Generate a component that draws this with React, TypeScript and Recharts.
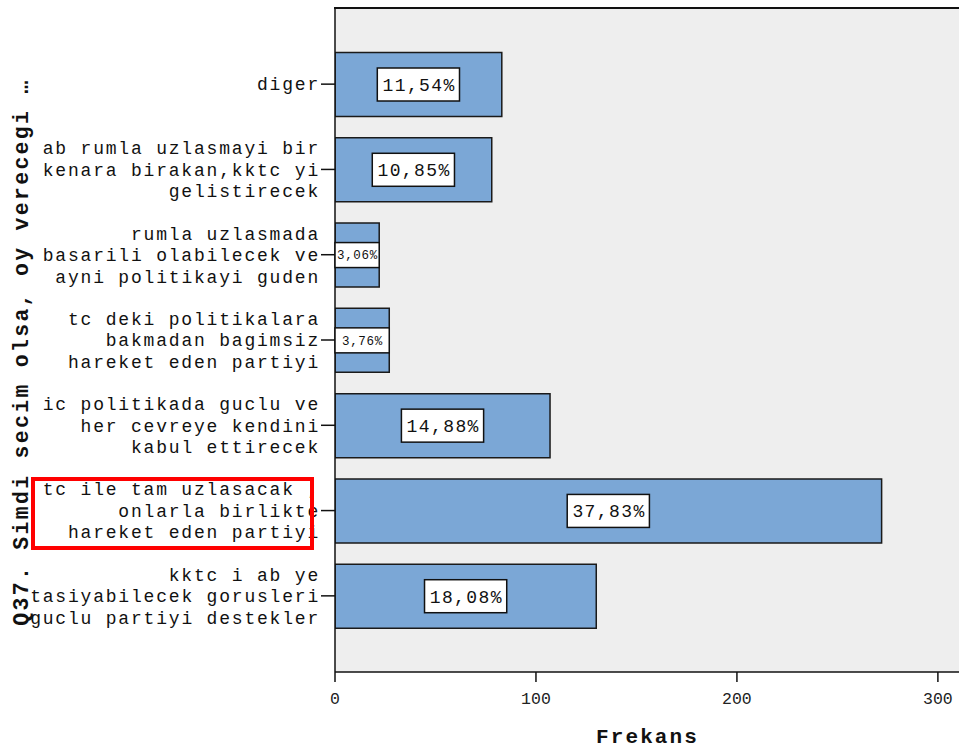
import React from 'react';
import { BarChart, Bar, XAxis, YAxis, CartesianGrid, LabelList } from 'recharts';

// answer categories, top to bottom, one entry per printed line
const categories = [
  ['diger'],
  ['ab rumla uzlasmayi bir', 'kenara birakan,kktc yi', 'gelistirecek'],
  ['rumla uzlasmada', 'basarili olabilecek ve', 'ayni politikayi guden'],
  ['tc deki politikalara', 'bakmadan bagimsiz', 'hareket eden partiyi'],
  ['ic politikada guclu ve', 'her cevreye kendini', 'kabul ettirecek'],
  ['tc ile tam uzlasacak ,', 'onlarla birlikte', 'hareket eden partiyi'],
  ['kktc i ab ye', 'tasiyabilecek gorusleri', 'guclu partiyi destekler'],
];
const frequencies = [83, 78, 22, 27, 107, 272, 130];
const percentLabels = ['11,54%', '10,85%', '3,06%', '3,76%', '14,88%', '37,83%', '18,08%'];
const xTicks = [0, 100, 200, 300];
const xMax = 311;

const data = categories.map((lines, i) => ({
  name: lines.join('|'),
  freq: frequencies[i],
  pct: percentLabels[i],
}));

const MONO = '"Liberation Mono", "DejaVu Sans Mono", monospace';
const PLOT_TOP = 8;
const PLOT_LEFT = 335;

const CategoryTick = (props: any) => {
  const { x, y, payload } = props;
  const lines = String(payload.value).split('|');
  const lh = 21.5;
  const start = -((lines.length - 1) * lh) / 2;
  return (
    <text
      x={x + 1}
      y={y}
      textAnchor="end"
      fontFamily={MONO}
      fontSize={18}
      letterSpacing={1.8}
      fill="#111"
    >
      {lines.map((l, i) => (
        <tspan key={i} x={x + 1} y={y + start + i * lh} dy="0.35em">
          {l}
        </tspan>
      ))}
    </text>
  );
};

const NumTick = (props: any) => {
  const { x, y, payload } = props;
  return (
    <text x={x} y={y + 20} textAnchor="middle" fontFamily={MONO} fontSize={16.5} fill="#222">
      {payload.value}
    </text>
  );
};

const BarLabel = (props: any) => {
  const { x, y, width, height, value } = props;
  const txt = String(value);
  let fs = 18;
  let ls = 1.4;
  let bh = 33;
  let bw = txt.length * (fs * 0.6 + ls) + 9;
  if (bw > width) {
    fs = 12.5;
    ls = 0.7;
    bh = 25;
    bw = width;
  }
  const cx = x + width / 2;
  const cy = y + height / 2;
  return (
    <g>
      <rect x={cx - bw / 2} y={cy - bh / 2} width={bw} height={bh} fill="#fff" stroke="#111" strokeWidth={1.5} />
      <text
        x={cx + ls / 2}
        y={cy}
        dy="0.35em"
        textAnchor="middle"
        fontFamily={MONO}
        fontSize={fs}
        letterSpacing={ls}
        fill="#111"
      >
        {txt}
      </text>
    </g>
  );
};

const XTitle = (props: any) => {
  const vb = props.viewBox || {};
  return (
    <text
      x={vb.x + vb.width / 2}
      y={vb.y + vb.height - 6}
      textAnchor="middle"
      fontFamily={MONO}
      fontWeight="bold"
      fontSize={21}
      letterSpacing={2.1}
      fill="#111"
    >
      Frekans
    </text>
  );
};

const YTitle = (props: any) => {
  const vb = props.viewBox || {};
  const cx = vb.x + 20;
  const cy = vb.y + vb.height / 2 + 12;
  return (
    <text
      x={cx}
      y={cy}
      dy="0.35em"
      transform={`rotate(-90 ${cx} ${cy})`}
      textAnchor="middle"
      fontFamily={MONO}
      fontWeight="bold"
      fontSize={21.5}
      letterSpacing={2.3}
      fill="#111"
    >
      Q37. Simdi secim olsa, oy verecegi …
    </text>
  );
};

export default function App() {
  return (
    <div
      style={{
        position: 'fixed',
        left: 0,
        top: 0,
        width: 959,
        height: 749,
        overflow: 'hidden',
        background: '#fff',
      }}
    >
      <BarChart
        layout="vertical"
        width={962}
        height={749}
        data={data}
        margin={{ top: PLOT_TOP, right: 2, bottom: 0, left: 0 }}
      >
        <CartesianGrid fill="#EEEEEE" stroke="none" horizontal={false} vertical={false} />
        <XAxis
          type="number"
          domain={[0, xMax]}
          ticks={xTicks}
          allowDataOverflow
          tickSize={10}
          height={77}
          axisLine={{ stroke: '#111', strokeWidth: 1.5 }}
          tickLine={{ stroke: '#111', strokeWidth: 1.5 }}
          tick={<NumTick />}
          label={<XTitle />}
        />
        <YAxis
          type="category"
          dataKey="name"
          width={PLOT_LEFT}
          interval={0}
          tickSize={14}
          padding={{ top: 33.5, bottom: 33.5 }}
          axisLine={{ stroke: '#111', strokeWidth: 1.5 }}
          tickLine={{ stroke: '#111', strokeWidth: 1.5 }}
          tick={<CategoryTick />}
          label={<YTitle />}
        />
        <Bar
          dataKey="freq"
          fill="#7BA7D6"
          stroke="#1a1a1a"
          strokeWidth={1.5}
          barSize={64}
          isAnimationActive={false}
        >
          <LabelList dataKey="pct" content={<BarLabel />} />
        </Bar>
      </BarChart>
      {/* top edge of the plot frame */}
      <div
        style={{
          position: 'absolute',
          left: PLOT_LEFT - 1,
          top: PLOT_TOP - 1,
          right: 0,
          height: 2,
          background: '#111',
        }}
      />
      {/* red highlight round one answer */}
      <div
        style={{
          position: 'absolute',
          left: 31,
          top: 477,
          width: 275,
          height: 65,
          border: '4px solid #FF0000',
        }}
      />
    </div>
  );
}
